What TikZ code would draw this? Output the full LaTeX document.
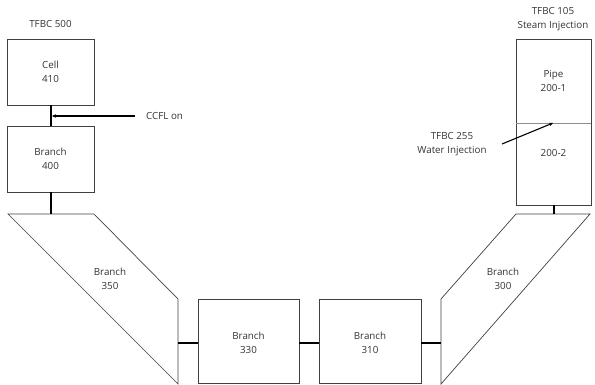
\documentclass[tikz,border=0pt]{standalone}
\usepackage{fontspec}
\setmainfont{Open Sans}
\usetikzlibrary{arrows.meta}
\begin{document}
\begin{tikzpicture}[x=1pt,y=-1pt,
  box/.style={draw=black!75,line width=0.7pt},
  link/.style={draw=black,line width=1.8pt},
  lbl/.style={font=\fontsize{9.8}{14}\selectfont,text=black!80,align=center,inner sep=0pt},
  ptr/.style={draw=black,line width=1.1pt,-{Stealth[length=4pt,width=3.5pt]}}]
\useasboundingbox (0,0) rectangle (595,385);
% boxes
\draw[box] (7,39) rectangle (94,105);
\node[lbl] (cell) at (50.5,72) {Cell\\410};
\draw[box] (7,126) rectangle (94,192);
\node[lbl] (b400) at (50.5,159) {Branch\\400};
\draw[box] (8,214) -- (94,214) -- (178,299) -- (178,384) -- cycle;
\node[lbl] (b350) at (110,279) {Branch\\350};
\draw[box] (198,299) rectangle (299,383);
\node[lbl] (b330) at (248.5,343) {Branch\\330};
\draw[box] (319,299) rectangle (421,383);
\node[lbl] (b310) at (370,343) {Branch\\310};
\draw[box] (441,299) -- (516,214) -- (590,214) -- (441,384) -- cycle;
\node[lbl] (b300) at (503,279) {Branch\\300};
\draw[box] (516,39) rectangle (591,205);
\draw[draw=black!45,line width=0.6pt] (516,123) -- (591,123);
\node[lbl] (p1) at (553.5,81) {Pipe\\200-1};
\node[lbl] (p2) at (553.5,153) {200-2};
% connectors
\coordinate (c1) at (51,105); \coordinate (c2) at (51,126);
\draw[link] (c1) -- (c2);
\coordinate (c3) at (51,192); \coordinate (c4) at (51,214);
\draw[link] (c3) -- (c4);
\coordinate (c5) at (178,343); \coordinate (c6) at (198,343);
\draw[link] (c5) -- (c6);
\coordinate (c7) at (299,343); \coordinate (c8) at (319,343);
\draw[link] (c7) -- (c8);
\coordinate (c9) at (421,343); \coordinate (c10) at (441,343);
\draw[link] (c9) -- (c10);
\coordinate (c11) at (554,205); \coordinate (c12) at (554,214);
\draw[link] (c11) -- (c12);
% labels
\node[lbl] (t500) at (50.5,24) {TFBC 500};
\node[lbl] (t105) at (553,19.5) {TFBC 105\\Steam Injection};
\node[lbl,anchor=west] (ccfl) at (146,116) {CCFL on};
\coordinate (ccflend) at (135,116);
\coordinate (ccfltip) at (52,116);
\draw[ptr] (ccflend) -- (ccfltip);
\node[lbl] (t255) at (452,144) {TFBC 255\\Water Injection};
\coordinate (wstart) at (502,144);
\coordinate (wtip) at (553,123);
\draw[ptr] (wstart) -- (wtip);
\end{tikzpicture}
\end{document}
